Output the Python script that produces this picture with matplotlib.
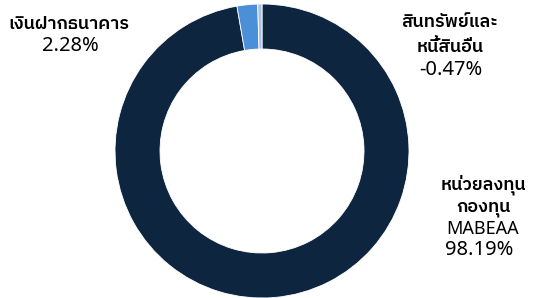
import matplotlib
matplotlib.use("Agg")
import matplotlib.pyplot as plt
import matplotlib.font_manager as fm

# pick a font that has Thai glyphs
thai_font = "DejaVu Sans"
for name in ["IBM Plex Sans Thai", "Noto Sans Thai", "Sarabun"]:
    try:
        fm.findfont(name, fallback_to_default=False)
        thai_font = name
        break
    except Exception:
        pass
plt.rcParams["font.family"] = ["Noto Sans", "DejaVu Sans"]

labels = ["หน่วยลงทุน\nกองทุน", "เงินฝากธนาคาร", "สินทรัพย์และ\nหนี้สินอื่น"]
sub_labels = ["MABEAA", "", ""]
values = [98.19, 2.28, -0.47]
colors = ["#0e2540", "#4b8fd8", "#a9c3e3"]

fig = plt.figure(figsize=(5.41, 2.98), dpi=100)
ax = fig.add_axes([0, 0, 1, 1])

sizes = [abs(v) for v in values]
ax.pie(sizes, colors=colors, startangle=90, counterclock=False,
       center=(262, 298 - 151), radius=147,
       wedgeprops=dict(width=45, edgecolor="white", linewidth=0.6))
ax.set_xlim(0, 541)
ax.set_ylim(0, 298)
ax.set_aspect("equal")
ax.axis("off")

th = dict(ha="center", va="center", fontsize=13, fontweight="semibold", family=[thai_font, "DejaVu Sans"])
num = dict(ha="center", va="center", fontsize=14.5)

# left label
ax.text(69, 298 - 24, labels[1], **th)
ax.text(70, 298 - 46, "%.2f%%" % values[1], **num)

# top right label
t1 = labels[2].split("\n")
ax.text(450, 298 - 22, t1[0], **th)
ax.text(450, 298 - 47, t1[1], **th)
ax.text(451, 298 - 70, "%.2f%%" % values[2], **num)

# bottom right label
t0 = labels[0].split("\n")
ax.text(483, 298 - 185, t0[0], **th)
ax.text(483, 298 - 208, t0[1], **th)
ax.text(483, 298 - 229, sub_labels[0], ha="center", va="center", fontsize=13)
ax.text(479, 298 - 250, "%.2f%%" % values[0], **num)

fig.savefig("out.png", dpi=100)
